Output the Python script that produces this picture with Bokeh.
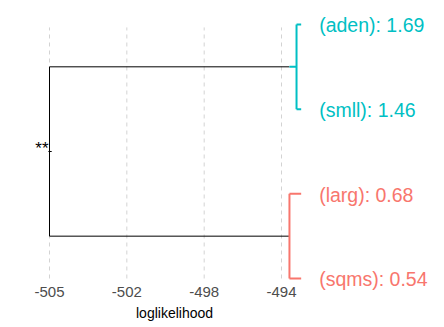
from bokeh.plotting import figure
from bokeh.models import ColumnDataSource, FixedTicker, Range1d
from bokeh.embed import file_html
from bokeh.resources import INLINE
from bokeh.core.properties import value

# ---- data ----
leaves = ["aden", "smll", "larg", "sqms"]
leaf_values = [1.69, 1.46, 0.68, 0.54]
leaf_y = [4, 3, 2, 1]
leaf_x = -493.61
leaf_cluster = [0, 0, 1, 1]

cluster_colors = ["#00BFC4", "#F8766D"]
cluster_merge_x = [-493.82, -494.14]
cluster_merge_y = [3.5, 1.5]
cluster_top_y = [4, 2]
cluster_bottom_y = [3, 1]
cut_x = -494.14

root_x = -505.0
root_y = 2.5
root_label = "**"

tick_values = [-505.0, -501.5, -498.0, -494.5]
tick_labels = ["-505", "-502", "-498", "-494"]
x_label = "loglikelihood"
panel_x = (-505.543, -493.142)
x_label_y = 0.598
x_axis_y = 0.8937

grid_y0 = 1.0
grid_y1 = 3.965

FONT = "Liberation Sans"

p = figure(width=444, height=327, output_backend="svg", toolbar_location=None,
           x_range=Range1d(-507.218, -487.123), y_range=Range1d(0.42128, 4.2833),
           min_border_left=0, min_border_right=0, min_border_top=0,
           min_border_bottom=0)
p.outline_line_color = None
p.xgrid.visible = False
p.ygrid.visible = False
p.yaxis.visible = False

# grid lines (dashed)
p.segment(x0=tick_values, y0=[grid_y0] * len(tick_values),
          x1=tick_values, y1=[grid_y1] * len(tick_values),
          line_color="#D3D3D3", line_width=1, line_dash="4 4")

# root vertical
p.segment(x0=[root_x], y0=[min(cluster_merge_y)], x1=[root_x], y1=[max(cluster_merge_y)],
          line_color="black", line_width=1)
# small root stub
p.segment(x0=[root_x - 0.05], y0=[root_y], x1=[root_x + 0.1], y1=[root_y],
          line_color="black", line_width=1)
# black horizontals root -> cut
p.segment(x0=[root_x] * 2, y0=cluster_merge_y, x1=[cut_x] * 2, y1=cluster_merge_y,
          line_color="black", line_width=1)
# colored stubs cut -> cluster node
p.segment(x0=[cut_x] * 2, y0=cluster_merge_y, x1=cluster_merge_x, y1=cluster_merge_y,
          line_color=cluster_colors, line_width=2)
# colored verticals
p.segment(x0=cluster_merge_x, y0=cluster_bottom_y, x1=cluster_merge_x, y1=cluster_top_y,
          line_color=cluster_colors, line_width=2)
# leaf horizontals
leaf_colors = [cluster_colors[c] for c in leaf_cluster]
leaf_start = [cluster_merge_x[c] for c in leaf_cluster]
p.segment(x0=leaf_start, y0=leaf_y, x1=[leaf_x] * 4, y1=leaf_y,
          line_color=leaf_colors, line_width=2)

# leaf labels
src = ColumnDataSource(dict(
    x=[leaf_x] * 4, y=leaf_y,
    text=[f"({n}): {v:.2f}" for n, v in zip(leaves, leaf_values)],
    color=leaf_colors))
p.text(x="x", y="y", text="text", source=src, x_offset=18, y_offset=1,
       text_color="color", text_font=value(FONT), text_font_size="19.5px",
       text_align="left", text_baseline="middle")

# root label
p.text(x=[root_x], y=[root_y], text=[root_label], x_offset=-1, y_offset=-3,
       text_font=value(FONT), text_font_size="17px", text_color="black",
       text_align="right", text_baseline="middle")

# axis (placed inside the full-canvas frame)
ax = p.xaxis[0]
ax.fixed_location = x_axis_y
ax.ticker = FixedTicker(ticks=tick_values)
ax.major_label_overrides = {v: l for v, l in zip(tick_values, tick_labels)}
ax.axis_line_color = None
ax.major_tick_line_color = None
ax.minor_tick_line_color = None
ax.major_tick_out = 0
ax.major_tick_in = 0
ax.major_label_standoff = 0
ax.major_label_text_font = FONT
ax.major_label_text_font_size = "15px"
ax.major_label_text_color = "#4D4D4D"

# axis title, centred under the panel
p.text(x=[sum(panel_x) / 2], y=[x_label_y], text=[x_label],
       text_font=value(FONT), text_font_size="14px", text_color="black",
       text_align="center", text_baseline="middle")

open("out.html", "w").write(file_html(p, INLINE))
